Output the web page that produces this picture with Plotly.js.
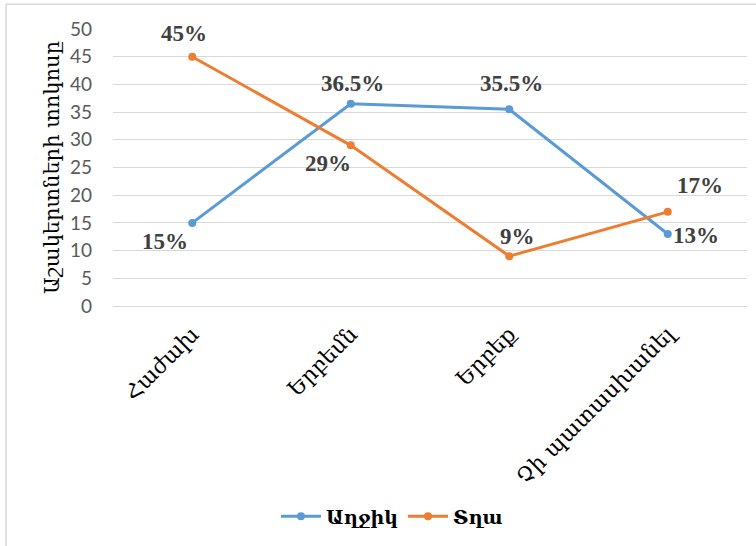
<!DOCTYPE html>
<html>
<head>
<meta charset="utf-8">
<script src="https://cdn.plot.ly/plotly-3.0.1.min.js"></script>
<style>html,body{margin:0;padding:0;background:#fff;}#chart{width:756px;height:546px;}</style>
</head>
<body>
<div id="chart"></div>
<script>
const categories = ["Հաժախ", "Երբեմն", "Երբեք", "Չի պատասխանել"];
const girlsName = "Աղջիկ";
const boysName = "Տղա";
const girls = [15, 36.5, 35.5, 13];
const boys = [45, 29, 9, 17];
const girlsLabels = ["15%", "36.5%", "35.5%", "13%"];
const boysLabels = ["45%", "29%", "9%", "17%"];
const yTitle = "Աշակերտների տոկոսը";

const blue = "#5B9BD5";
const orange = "#ED7D31";
const serif = "DejaVu Serif, Liberation Serif, serif";
const labelFont = {family: "Liberation Serif, serif", size: 23, color: "#404040"};

// label offsets (pixels) for each point: style only
const girlsShift = [[-27, -19], [2, 20], [2, 26], [28, -2]];
const boysShift = [[-8, 23], [-23, -18], [8, 20], [32, 26]];

const annotations = [];
categories.forEach((c, i) => {
  annotations.push({x: c, y: girls[i], xref: "x", yref: "y", text: "<b>" + girlsLabels[i] + "</b>",
    showarrow: false, xshift: girlsShift[i][0], yshift: girlsShift[i][1], font: labelFont});
  annotations.push({x: c, y: boys[i], xref: "x", yref: "y", text: "<b>" + boysLabels[i] + "</b>",
    showarrow: false, xshift: boysShift[i][0], yshift: boysShift[i][1], font: labelFont});
});

const traces = [
  {x: categories, y: girls, name: girlsName, type: "scatter", mode: "lines+markers",
   line: {color: blue, width: 3}, marker: {color: blue, size: 8}},
  {x: categories, y: boys, name: boysName, type: "scatter", mode: "lines+markers",
   line: {color: orange, width: 3}, marker: {color: orange, size: 8}}
];

const layout = {
  width: 756, height: 546,
  margin: {l: 113, r: 9, t: 29, b: 240},
  paper_bgcolor: "#fff", plot_bgcolor: "#fff",
  showlegend: true,
  legend: {orientation: "h", x: 0.44, xanchor: "center", y: -0.76, yanchor: "middle",
    font: {family: serif, size: 19, color: "#000", weight: "bold"}, itemwidth: 40},
  xaxis: {type: "category", range: [-0.5, 3.5], showgrid: false, zeroline: false, showline: false,
    tickangle: -45, ticklabelstandoff: 10,
    tickfont: {family: serif, size: 22, color: "#000"}, ticks: "", fixedrange: true},
  yaxis: {range: [0, 50], dtick: 5, tick0: 0, showgrid: true, gridcolor: "#D9D9D9", gridwidth: 1,
    zeroline: true, zerolinecolor: "#D9D9D9", zerolinewidth: 1, showline: false, ticks: "",
    ticklabelstandoff: 20,
    tickfont: {family: "Lato, Liberation Sans, sans-serif", size: 19, color: "#595959"},
    title: {text: yTitle, font: {family: serif, size: 21, color: "#000"}, standoff: 4}},
  annotations: annotations,
  shapes: [{type: "rect", xref: "paper", yref: "paper", x0: -0.1688, x1: 1.2, y0: -1.2, y1: 1.089,
    line: {color: "#D9D9D9", width: 1.5}, fillcolor: "rgba(0,0,0,0)", layer: "below"}]
};

Plotly.newPlot("chart", traces, layout, {displayModeBar: false, staticPlot: true});
</script>
</body>
</html>
